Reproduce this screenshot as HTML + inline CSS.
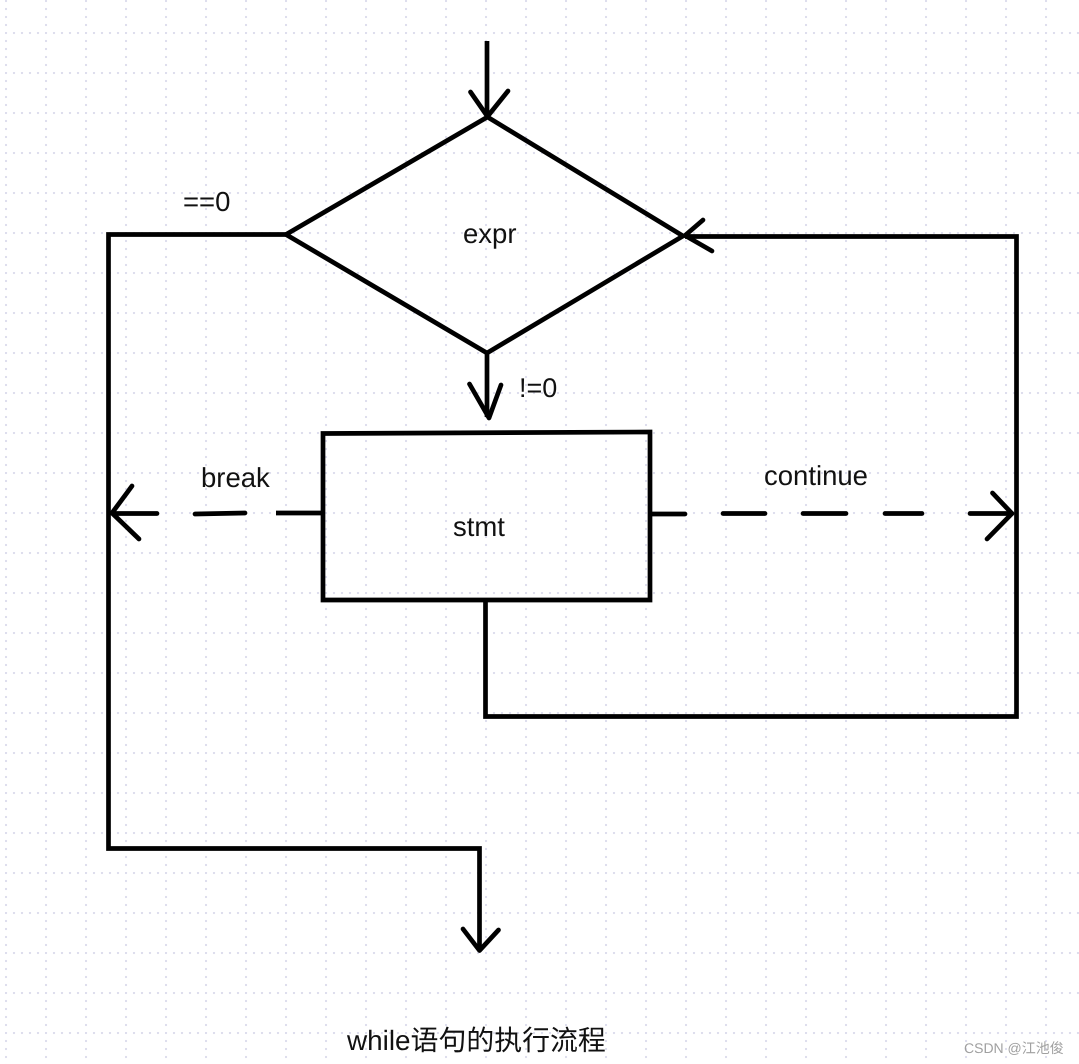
<!DOCTYPE html>
<html lang="zh">
<head>
<meta charset="utf-8">
<title>while语句的执行流程</title>
<style>
html,body{margin:0;padding:0;background:#fff;}
svg{display:block;}
text{font-family:"Liberation Sans","Noto Sans CJK SC",sans-serif;fill:#111;font-size:27.5px;text-rendering:geometricPrecision;}
.s{fill:none;stroke:#000;stroke-width:4.7;stroke-linejoin:miter;stroke-linecap:butt;}
.r{fill:none;stroke:#000;stroke-width:4.7;stroke-linejoin:round;stroke-linecap:round;}
</style>
</head>
<body>
<svg width="1079" height="1064" viewBox="0 0 1079 1064" xmlns="http://www.w3.org/2000/svg">
<defs>
<pattern id="g" x="5" y="-8" width="40" height="40" patternUnits="userSpaceOnUse">
<g fill="#dcdcec">
<circle cx="1" cy="1" r="1.15"/><circle cx="9" cy="1" r="1.15"/><circle cx="17" cy="1" r="1.15"/><circle cx="25" cy="1" r="1.15"/><circle cx="33" cy="1" r="1.15"/>
<circle cx="1" cy="9" r="1.15"/><circle cx="1" cy="17" r="1.15"/><circle cx="1" cy="25" r="1.15"/><circle cx="1" cy="33" r="1.15"/>
</g>
</pattern>
</defs>
<rect width="1079" height="1064" fill="#fff"/>
<rect width="1079" height="1064" fill="url(#g)"/>

<!-- top arrow -->
<path class="s" d="M487 41V117"/>
<path class="r" d="M470.5 92L487.5 116.5L508 91"/>

<!-- diamond -->
<path class="s" d="M487.5 117L683 236L487 353L286 234.5Z"/>

<!-- arrow into diamond, right -->
<path class="r" d="M703 220L685 235.5L712 251"/>
<path class="s" d="M685 236.5H1016.5V716.5H485.5V600"/>

<!-- middle arrow -->
<path class="s" d="M487 353V417"/>
<path class="r" d="M469.5 384L489 418L501 385"/>

<!-- rect -->
<path class="s" d="M323 433.5L650 432V600H323Z"/>

<!-- exit path -->
<path class="s" d="M286 234.5H108.5V848.5H479.5V950"/>
<path class="r" d="M463 929L479.5 950.5L498.5 930"/>

<!-- break dashed -->
<path class="r" d="M113 513.5H157"/>
<path class="r" d="M195 514L245 513"/>
<path class="s" d="M276 513H323"/>
<path class="r" d="M132 486L112 513L139 539"/>

<!-- continue dashed -->
<path class="r" d="M652 514H685"/>
<path class="r" d="M723 513.5H765"/>
<path class="r" d="M803 513.5H846"/>
<path class="r" d="M885 513.5H922"/>
<path class="r" d="M970 513.5H1012"/>
<path class="r" d="M992.5 493L1012 513.5L987 539"/>

<!-- labels -->
<text x="183" y="211">==0</text>
<text x="463" y="243">expr</text>
<text x="519" y="397" style="font-size:27px">!=0</text>
<text x="201" y="487">break</text>
<text x="764" y="485">continue</text>
<text x="453" y="536">stmt</text>
<text x="347" y="1050" style="font-size:27.9px">while语句的执行流程</text>
<text x="964" y="1053" style="font-size:14px;fill:#a0a0a0">CSDN @江池俊</text>
</svg>
</body>
</html>
